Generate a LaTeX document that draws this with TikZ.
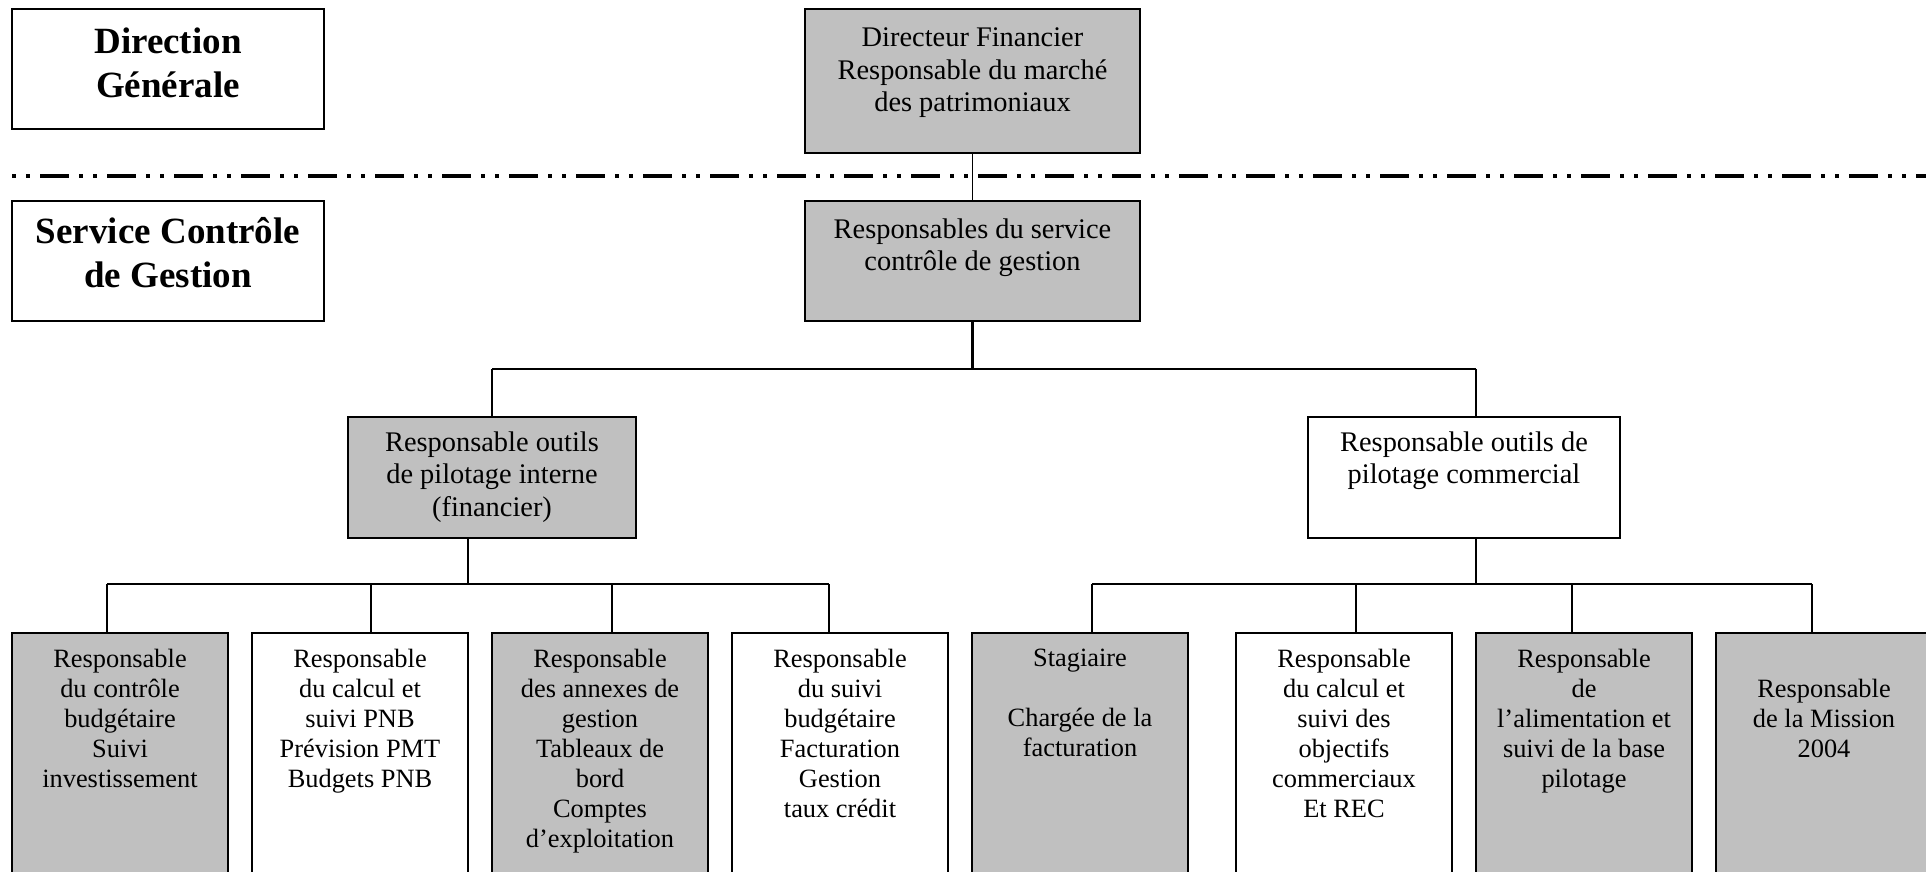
\documentclass[tikz,border=0pt]{standalone}
\usepackage{fontspec}
\setmainfont{Liberation Serif}
\definecolor{boxgray}{RGB}{192,192,192}

\begin{document}
\begin{tikzpicture}[x=0.5pt,y=-0.5pt,
  box/.style={draw, line width=1pt, inner sep=0pt, outer sep=0pt},
  greybox/.style={box, fill=boxgray},
  lowbox/.style={minimum width=108pt, minimum height=128.5pt},
  headtxt/.style={anchor=north, inner sep=0pt, align=center, font=\fontsize{18.5}{22}\selectfont\bfseries},
  midtxt/.style={anchor=north, inner sep=0pt, align=center, font=\fontsize{14.2}{16.4}\selectfont},
  lowtxt/.style={anchor=north, inner sep=0pt, align=center, font=\fontsize{13.2}{15}\selectfont},
  link/.style={line width=1pt},
  stem/.style={line width=1.25pt}]
%set diagram area: 1926 x 872
\useasboundingbox (0,0) rectangle (1926,872);
\clip (0,0) rectangle (1926,872);

%Shape: Rectangle (levels)
\node (dg) [box, minimum width=156pt, minimum height=60pt] at (168,69) {};
\node (scg) [box, minimum width=156pt, minimum height=60pt] at (168,261) {};
%Shape: Rectangle (top)
\node (daf) [greybox, minimum width=167.5pt, minimum height=72pt] at (972.5,81) {};
\node (rscg) [greybox, minimum width=167.5pt, minimum height=60pt] at (972.5,261) {};
%Shape: Rectangle (middle)
\node (rpi) [greybox, minimum width=144pt, minimum height=60.5pt] at (492,477.5) {};
\node (rpc) [box, minimum width=156pt, minimum height=60.5pt] at (1464,477.5) {};
%Shape: Rectangle (bottom)
\node (bl1) [greybox, lowbox] at (120,761.5) {};
\node (bl2) [box, lowbox] at (360,761.5) {};
\node (bl3) [greybox, lowbox] at (600,761.5) {};
\node (bl4) [box, lowbox] at (840,761.5) {};
\node (br1) [greybox, lowbox] at (1080,761.5) {};
\node (br2) [box, lowbox] at (1344,761.5) {};
\node (br3) [greybox, lowbox] at (1584,761.5) {};
\node (br4) [greybox, lowbox] at (1824,761.5) {};

%Straight Lines (separator)
\coordinate (sepL) at (12,176);
\coordinate (sepR) at (1926,176);
\draw [line width=1.65pt, dash pattern=on 2pt off 5pt on 2pt off 5pt on 14.5pt off 5pt] (sepL) -- (sepR);

%Straight Lines (links)
\coordinate (busA) at (492,369);
\coordinate (busB) at (1476,369);
\coordinate (stemL) at (468,584);
\coordinate (stemR) at (1476,584);
\coordinate (tl1) at (107,584);
\coordinate (tl2) at (371,584);
\coordinate (tl3) at (612,584);
\coordinate (tl4) at (829,584);
\coordinate (tr1) at (1092,584);
\coordinate (tr2) at (1356,584);
\coordinate (tr3) at (1572,584);
\coordinate (tr4) at (1812,584);

\draw [line width=0.6pt] (daf) -- (rscg);
\draw [stem] (rscg.south) -- (rscg.south |- busA);
\draw [link] (busA) -- (busB);
\draw [stem] (busA) -- (rpi.north);
\draw [stem] (busB) -- (busB |- rpc.north);
\draw [stem] (stemL |- rpi.south) -- (stemL);
\draw [stem] (stemR |- rpc.south) -- (stemR);
\draw [link] (tl1) -- (tl4);
\draw [link] (tr1) -- (tr4);
\draw [stem] (tl1) -- (tl1 |- bl1.north);
\draw [stem] (tl2) -- (tl2 |- bl2.north);
\draw [stem] (tl3) -- (tl3 |- bl3.north);
\draw [stem] (tl4) -- (tl4 |- bl4.north);
\draw [stem] (tr1) -- (tr1 |- br1.north);
\draw [stem] (tr2) -- (tr2 |- br2.north);
\draw [stem] (tr3) -- (tr3 |- br3.north);
\draw [stem] (tr4) -- (tr4 |- br4.north);

% Text Node
\node (dgt) [headtxt] at (168,27) {Direction\\Générale};
% Text Node
\node (scgt) [headtxt] at (168,217) {Service Contrôle\\de Gestion};
% Text Node
\node (daft) [midtxt] at (972.5,27) {Directeur Financier\\Responsable du marché\\des patrimoniaux};
% Text Node
\node (rscgt) [midtxt] at (972.5,218) {Responsables du service\\contrôle de gestion};
% Text Node
\node (rpit) [midtxt] at (492,431) {Responsable outils\\de pilotage interne\\(financier)};
% Text Node
\node (rpct) [midtxt] at (1464,431) {Responsable outils de\\pilotage commercial};
% Text Node
\node (bl1t) [lowtxt] at (120,649) {Responsable\\du contrôle\\budgétaire\\Suivi\\investissement};
% Text Node
\node (bl2t) [lowtxt] at (360,649) {Responsable\\du calcul et\\suivi PNB\\Prévision PMT\\Budgets PNB};
% Text Node
\node (bl3t) [lowtxt] at (600,649) {Responsable\\des annexes de\\gestion\\Tableaux de\\bord\\Comptes\\d’exploitation};
% Text Node
\node (bl4t) [lowtxt] at (840,649) {Responsable\\du suivi\\budgétaire\\Facturation\\Gestion\\taux crédit};
% Text Node
\node (br1t) [lowtxt] at (1080,649) {Stagiaire\\[15pt]Chargée de la\\facturation};
% Text Node
\node (br2t) [lowtxt] at (1344,649) {Responsable\\du calcul et\\suivi des\\objectifs\\commerciaux\\Et REC};
% Text Node
\node (br3t) [lowtxt] at (1584,649) {Responsable\\de\\l’alimentation et\\suivi de la base\\pilotage};
% Text Node
\node (br4t) [lowtxt] at (1824,679) {Responsable\\de la Mission\\2004};

\end{tikzpicture}
\end{document}
